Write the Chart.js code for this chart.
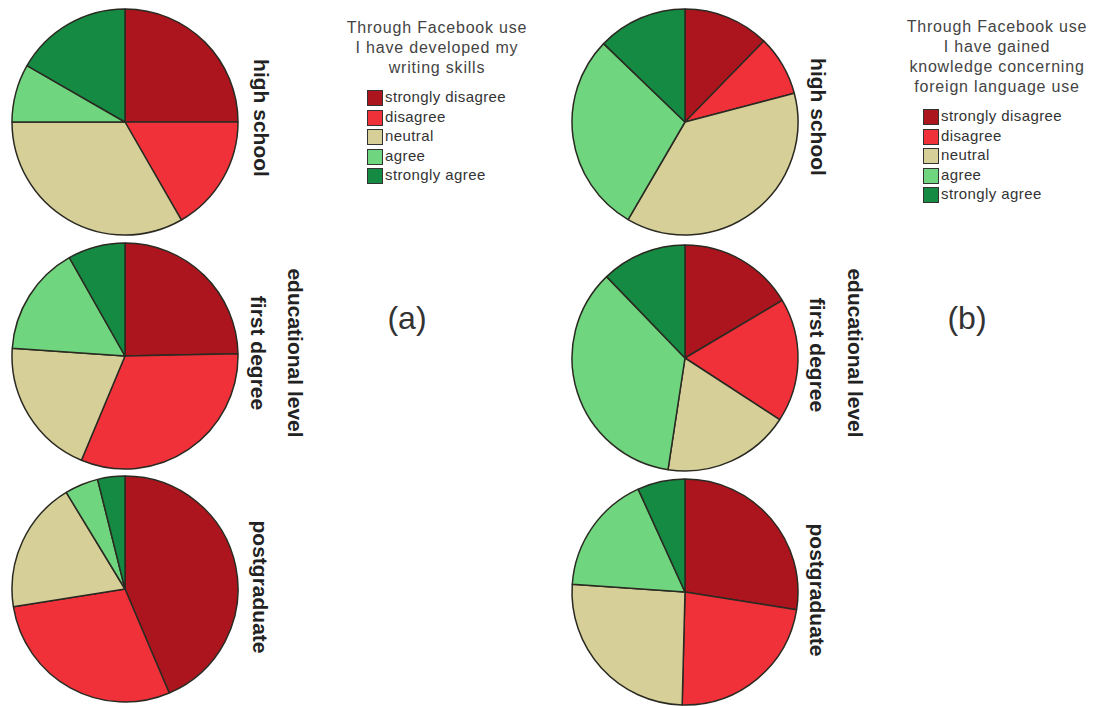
<!DOCTYPE html>
<html>
<head>
<meta charset="utf-8">
<script src="https://cdn.jsdelivr.net/npm/chart.js@4/dist/chart.umd.min.js"></script>
<style>
    html, body { margin: 0; padding: 0; background: #fff; }
    body { width: 1096px; height: 706px; position: relative; overflow: hidden; font-family: "Liberation Sans", Arial, sans-serif; }
    .pie { position: absolute; width: 232px; height: 232px; }
    .lbl { position: absolute; width: 0; height: 0; }
    .lbl span {
        position: absolute; left: 0; top: 0; white-space: nowrap;
        font-weight: bold; font-size: 21px; color: #222;
        transform: translate(-50%, -50%) rotate(90deg);
    }
    .panel { position: absolute; font-size: 32px; color: #333; transform: translate(-50%, -50%); }
    .legend { position: absolute; color: #333; }
    .legend .title { text-align: center; font-size: 16px; line-height: 20px; letter-spacing: 0.8px; color: #444; }
    .legend .item { position: absolute; white-space: nowrap; font-size: 15px; letter-spacing: 0.4px; line-height: 15px; }
    .legend .box { position: absolute; width: 14px; height: 14px; border: 1px solid #333; }
</style>
</head>
<body>

<script>
// answer categories (legend order)
const answers = ['strongly disagree', 'disagree', 'neutral', 'agree', 'strongly agree'];
const answerColors = ['#ac151d', '#f0313a', '#d6cf98', '#6fd57e', '#158a43'];

// educational level groups
const levels = ['high school', 'first degree', 'postgraduate'];

// (a) Through Facebook use I have developed my writing skills  (% per level)
const writingHigh = [25.0, 16.7, 33.3, 8.3, 16.7];
const writingFirst = [24.7, 31.6, 19.8, 15.7, 8.2];
const writingPost = [43.6, 28.9, 18.8, 4.8, 3.9];

// (b) Through Facebook use I have gained knowledge concerning foreign language use
const foreignHigh = [12.3, 8.6, 37.5, 28.8, 12.8];
const foreignFirst = [16.5, 17.7, 18.2, 35.4, 12.2];
const foreignPost = [27.5, 22.9, 25.7, 17.1, 6.8];

const titleA = ['Through Facebook use', 'I have developed my', 'writing skills'];
const titleB = ['Through Facebook use', 'I have gained', 'knowledge concerning', 'foreign language use'];

function addPie(data, cx, cy) {
    const c = document.createElement('canvas');
    c.className = 'pie';
    c.width = 232; c.height = 232;
    c.style.left = (cx - 116) + 'px';
    c.style.top = (cy - 116) + 'px';
    document.body.appendChild(c);
    new Chart(c.getContext('2d'), {
        type: 'pie',
        data: {
            labels: answers,
            datasets: [{
                data: data,
                backgroundColor: answerColors,
                borderColor: '#2a2a22',
                borderWidth: 1.5
            }]
        },
        options: {
            responsive: false,
            animation: false,
            radius: 113,
            layout: { padding: 0 },
            plugins: { legend: { display: false }, tooltip: { enabled: false } }
        }
    });
}

function addLabel(text, x, y) {
    const d = document.createElement('div');
    d.className = 'lbl';
    d.style.left = x + 'px';
    d.style.top = y + 'px';
    d.innerHTML = '<span>' + text + '</span>';
    document.body.appendChild(d);
}

function addLegend(title, centerX, titleTop, boxX, firstRowY) {
    const t = document.createElement('div');
    t.className = 'legend';
    t.style.left = (centerX - 110) + 'px';
    t.style.top = titleTop + 'px';
    t.style.width = '220px';
    t.innerHTML = '<div class="title">' + title.join('<br>') + '</div>';
    document.body.appendChild(t);

    answers.forEach((a, i) => {
        const y = firstRowY + i * 19.5;
        const box = document.createElement('div');
        box.className = 'legend';
        box.innerHTML = '<div class="box" style="background:' + answerColors[i] + '"></div>';
        box.style.left = boxX + 'px';
        box.style.top = (y - 8) + 'px';
        document.body.appendChild(box);

        const it = document.createElement('div');
        it.className = 'legend';
        it.innerHTML = '<div class="item">' + a + '</div>';
        it.style.left = (boxX + 18) + 'px';
        it.style.top = (y - 9) + 'px';
        document.body.appendChild(it);
    });
}

function addPanel(text, x, y) {
    const d = document.createElement('div');
    d.className = 'panel';
    d.style.left = x + 'px';
    d.style.top = y + 'px';
    d.textContent = text;
    document.body.appendChild(d);
}

// panel (a)
addPie(writingHigh, 125, 122);
addPie(writingFirst, 125, 356);
addPie(writingPost, 125, 589);
addLabel(levels[0], 261, 118);
addLabel('educational level', 295, 353);
addLabel(levels[1], 258, 353);
addLabel(levels[2], 260, 587);
addLegend(titleA, 437, 18, 367, 98);
addPanel('(a)', 407, 318);

// panel (b)
addPie(foreignHigh, 685, 122);
addPie(foreignFirst, 685, 358);
addPie(foreignPost, 685, 592);
addLabel(levels[0], 818, 117);
addLabel('educational level', 855, 353);
addLabel(levels[1], 817, 355);
addLabel(levels[2], 817, 590);
addLegend(titleB, 997, 17, 923, 117);
addPanel('(b)', 967, 318);
</script>
</body>
</html>
